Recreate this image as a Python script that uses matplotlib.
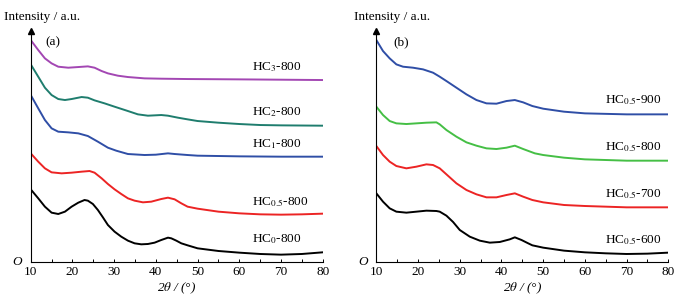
import numpy as np
import matplotlib
matplotlib.use("Agg")
import matplotlib.pyplot as plt

plt.rcParams['font.family'] = ['Liberation Serif', 'DejaVu Serif']
plt.rcParams['mathtext.fontset'] = 'stix'

# 2theta (degrees) and stacked intensity (a.u.)
# panel (a): HC_x-800
x_a0 = [10, 11.8, 13.4, 15, 16.6, 18.2, 19.8, 21.4, 22.9, 23.7, 24.9, 26.1, 27.3, 28.5, 30.1, 31.7, 33.3,
        34.9, 36.5, 38.1, 39.7, 41.3, 42.9, 43.7, 44.9, 46.1, 47.6, 50, 55, 60, 65, 70, 75, 80]
hc0 = [218, 191, 166, 148, 144, 151, 166, 178, 186, 184, 174, 156, 134, 111, 91, 76, 64,
       56, 53, 54, 58, 66, 73, 71, 64, 56, 50, 41, 33, 28, 24, 22, 24, 29]

x_a05 = [10, 11.8, 13.4, 15, 17.4, 19.8, 22.2, 24.1, 25.3, 27, 28.5, 30.1, 31.7, 33.3, 34.9, 36.9, 38.9,
         41.3, 42.9, 44.5, 46.1, 47.6, 50, 55, 60, 65, 70, 75, 80]
hc05 = [326, 301, 281, 269, 266, 268, 271, 273, 268, 251, 234, 218, 204, 191, 184, 179, 181,
        189, 193, 188, 176, 166, 160, 151, 146, 143, 142, 143, 145]

x_a1 = [10, 11.8, 13.4, 15, 16.6, 19, 21.4, 23.7, 26.1, 28.5, 30.5, 33.3, 37.3, 40, 42.9, 44.5, 47.6, 50, 60, 70, 80]
hc1 = [501, 461, 426, 401, 391, 389, 386, 378, 361, 343, 334, 324, 321, 322, 326, 324, 321, 319, 317, 316, 316]

x_a2 = [10, 11.8, 13.4, 15, 16.6, 18.2, 19.8, 22.2, 23.7, 25.3, 27.7, 30.1, 33.3, 35.7, 38.1, 41.3, 42.9,
        45.3, 47.6, 50, 55, 60, 65, 70, 80]
hc2 = [593, 556, 523, 501, 489, 486, 489, 495, 493, 485, 476, 466, 453, 443, 439, 441, 439,
       433, 428, 423, 418, 414, 411, 410, 409]

x_a3 = [10, 11.8, 13.4, 15, 16.6, 19, 21.4, 23.7, 25.3, 27, 28.5, 30.9, 33.3, 37.3, 41.3, 47.6, 60, 70, 80]
hc3 = [666, 636, 611, 596, 586, 583, 585, 587, 583, 573, 566, 559, 555, 551, 550, 549, 548, 547, 546]

# panel (b): HC_0.5-T
x_b6 = [10, 11.6, 13.2, 14.8, 17.2, 19.6, 22, 24.4, 25.2, 26.8, 28.4, 30, 32.4, 34.8, 37.2, 39.6, 42,
        43.2, 44.8, 46.4, 47.4, 50, 55, 60, 65, 70, 75, 80]
t600 = [206, 181, 161, 151, 148, 151, 154, 153, 151, 139, 120, 96, 76, 64, 58, 60, 68,
        74, 66, 56, 50, 43, 34, 29, 26, 24, 25, 28]

x_b7 = [10, 11.6, 13.2, 14.8, 17.2, 19.6, 22, 23.6, 25.2, 26.8, 29.2, 31.6, 34, 36.4, 38.8, 41.2,
        43.2, 45.2, 47.4, 50, 55, 60, 70, 80]
t700 = [348, 321, 301, 288, 281, 286, 293, 291, 281, 263, 236, 216, 203, 194, 194, 201,
        206, 196, 186, 179, 171, 168, 164, 164]

x_b8 = [10, 11.6, 13.2, 14.8, 17.2, 19.6, 22, 24.4, 25.2, 26.8, 29.2, 31.6, 34, 36.4, 38.8, 41.2,
        43.2, 45.2, 48, 50, 55, 60, 70, 80]
t800 = [466, 441, 423, 416, 414, 416, 418, 419, 413, 396, 376, 359, 349, 341, 339, 343,
        349, 339, 326, 321, 313, 308, 304, 304]

x_b9 = [10, 11.6, 13.2, 14.8, 16.4, 18.8, 21.2, 23.6, 25.2, 26.8, 29.2, 31.6, 34, 36.4, 38.8, 41.2,
        43.2, 45.2, 47.4, 50, 55, 60, 70, 80]
t900 = [666, 633, 611, 593, 586, 583, 578, 568, 556, 543, 523, 503, 486, 476, 475, 483,
        486, 479, 468, 460, 451, 446, 443, 443]

series_a = [(x_a3, hc3, '#a347b3', r'HC$_3$-800', 586),
            (x_a2, hc2, '#1f7d6e', r'HC$_2$-800', 451),
            (x_a1, hc1, '#2f4ea6', r'HC$_1$-800', 353),
            (x_a05, hc05, '#ec2424', r'HC$_{0.5}$-800', 181),
            (x_a0, hc0, 'black', r'HC$_0$-800', 69)]
series_b = [(x_b9, t900, '#2f4ea6', r'HC$_{0.5}$-900', 486),
            (x_b8, t800, '#45bf45', r'HC$_{0.5}$-800', 346),
            (x_b7, t700, '#ec2424', r'HC$_{0.5}$-700', 204),
            (x_b6, t600, 'black', r'HC$_{0.5}$-600', 66)]

fig = plt.figure(figsize=(6.89, 3.02), dpi=100)
ax1 = fig.add_axes([0.0446, 0.1325, 0.4238, 0.7647])
ax2 = fig.add_axes([0.5462, 0.1325, 0.4238, 0.7647])

panels = [(ax1, series_a, '(a)', 63, 0.049, -0.093),
          (ax2, series_b, '(b)', 64.8, 0.057, -0.078)]
for ax, series, tag, lx, tx, ix in panels:
    for xs, ys, c, lab, ly in series:
        ax.plot(xs, ys, color=c, lw=1.4)
        ax.text(lx, ly, lab, fontsize=9.5, va='center', ha='left')
    ax.set_xlim(10, 80)
    ax.set_ylim(0, 693)
    ax.spines['top'].set_visible(False)
    ax.spines['right'].set_visible(False)
    ax.spines['left'].set_linewidth(0.8)
    ax.spines['bottom'].set_linewidth(0.8)
    ax.set_yticks([])
    ax.set_xticks(range(10, 81, 10))
    ax.set_xticks(range(15, 80, 10), minor=True)
    ax.tick_params(axis='x', which='both', direction='in', length=2.5, width=0.7, labelsize=9.5, pad=3)
    ax.plot(0, 1, '^', color='black', markersize=4, transform=ax.transAxes, clip_on=False)
    ax.text(tx, 0.952, tag, transform=ax.transAxes, fontsize=9.5, va='center', ha='left')
    ax.text(-0.03, 0.0, 'O', transform=ax.transAxes, fontsize=9.5, style='italic', ha='right', va='center')
    ax.text(ix, 1.06, 'Intensity / a.u.', transform=ax.transAxes, fontsize=9.5, ha='left', va='center')
    ax.set_xlabel(r'2$\theta$ / (°)', fontsize=9.5, labelpad=2)
    ax.xaxis.label.set_fontstyle('italic')

fig.savefig('out.png', dpi=100)
